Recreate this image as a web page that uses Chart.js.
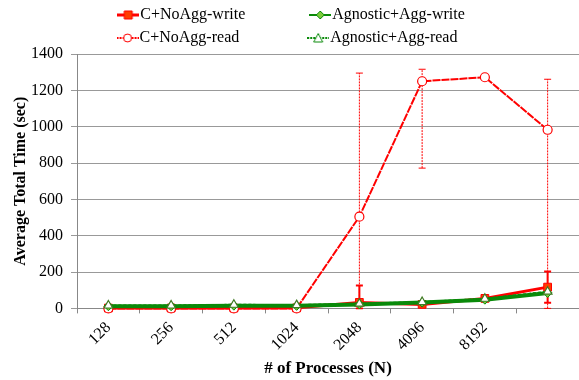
<!DOCTYPE html>
<html>
<head>
<meta charset="utf-8">
<script src="https://cdn.jsdelivr.net/npm/chart.js"></script>
<style>
  body { margin: 0; background: #fff; }
  #wrap { width: 579px; height: 380px; }
</style>
</head>
<body>
<div id="wrap"><canvas id="myLineChart" width="579" height="380"></canvas></div>
<script>
// DATA
var categories = ['128', '256', '512', '1024', '2048', '4096', '8192', ''];
var cWrite  = [2, 2, 2, 3, 33, 22, 55, 117];
var cRead   = [0, 0, 0, 0, 505, 1250, 1272, 983];
var agWrite = [12, 12, 15, 14, 22, 32, 48, 85];
var agRead  = [16, 16, 20, 18, 26, 35, 53, 92];

// error bars (low / high), null = none
var cReadLow   = [null, null, null, null, 0, 772, null, 0];
var cReadHigh  = [null, null, null, null, 1295, 1316, null, 1261];
var cWriteLow  = [null, null, null, null, 0, null, null, 31];
var cWriteHigh = [null, null, null, null, 126, null, null, 203];

var yTicks = { min: 0, max: 1400, step: 200 };

var RED = '#ff0000';
var GREEN = '#0a8a0a';
var FONT = '"Liberation Serif", "Times New Roman", serif';

Chart.defaults.font.family = FONT;
Chart.defaults.font.size = 16;
Chart.defaults.color = '#000';

// LEGEND ICONS - line with marker
function legendIcon(color, fill, style, dash, lw) {
  var c = document.createElement('canvas');
  c.width = 22; c.height = 12;
  var g = c.getContext('2d');
  g.strokeStyle = color; g.lineWidth = lw; g.setLineDash(dash);
  g.beginPath(); g.moveTo(0, 6); g.lineTo(22, 6); g.stroke();
  g.setLineDash([]); g.lineWidth = 1; g.fillStyle = fill;
  g.beginPath();
  if (style === 'rect') g.rect(7, 2, 8, 8);
  else if (style === 'circle') g.arc(11, 6, 4, 0, Math.PI * 2);
  else if (style === 'rectRot') { g.moveTo(11, 2); g.lineTo(15, 6); g.lineTo(11, 10); g.lineTo(7, 6); g.closePath(); }
  else if (style === 'triangle') { g.moveTo(11, 1.5); g.lineTo(15.5, 10); g.lineTo(6.5, 10); g.closePath(); }
  g.fill(); g.stroke();
  return c;
}

// pad legend text with spaces so the two columns line up
var measureCtx = document.createElement('canvas').getContext('2d');
measureCtx.font = '16px ' + FONT;
function padTo(text, px) {
  while (measureCtx.measureText(text).width < px) text += ' ';
  return text;
}

var datasets = [
  {
    label: 'C+NoAgg-write', data: cWrite, order: 3,
    borderColor: RED, backgroundColor: 'rgb(255,60,0)', borderWidth: 3,
    pointStyle: 'rect', pointRadius: 5.5, pointBorderColor: RED, pointBorderWidth: 1,
    errLow: cWriteLow, errHigh: cWriteHigh, errDash: [], errWidth: 2,
    icon: legendIcon(RED, 'rgb(255,60,0)', 'rect', [], 3)
  },
  {
    label: 'Agnostic+Agg-write', data: agWrite, order: 1,
    borderColor: GREEN, backgroundColor: '#7ccc3c', borderWidth: 4,
    pointStyle: 'rectRot', pointRadius: 4.5, pointBorderColor: GREEN, pointBorderWidth: 1,
    icon: legendIcon(GREEN, '#7ccc3c', 'rectRot', [], 2)
  },
  {
    label: 'C+NoAgg-read', data: cRead, order: 2,
    borderColor: RED, backgroundColor: '#fff', borderWidth: 2, borderDash: [8, 1],
    pointStyle: 'circle', pointRadius: 4.5, pointBorderColor: RED, pointBorderWidth: 1.2,
    errLow: cReadLow, errHigh: cReadHigh, errDash: [2, 1], errWidth: 1,
    icon: legendIcon(RED, '#fff', 'circle', [2, 1], 2)
  },
  {
    label: 'Agnostic+Agg-read', data: agRead, order: 0,
    borderColor: GREEN, backgroundColor: '#fff', borderWidth: 2, borderDash: [3, 2],
    pointStyle: 'triangle', pointRadius: 5, pointBorderColor: '#3f7a22', pointBorderWidth: 1.2,
    icon: legendIcon(GREEN, '#fff', 'triangle', [2, 1], 2)
  }
];
datasets.forEach(function (d) { d.clip = false; d.tension = 0; d.pointBackgroundColor = d.backgroundColor; });

// ERROR BARS
var errorBars = {
  id: 'errorBars',
  beforeDatasetsDraw: function (chart) {
    var ctx = chart.ctx, area = chart.chartArea, y = chart.scales.y;
    ctx.save();
    ctx.beginPath();
    ctx.rect(area.left, area.top - 2, area.right - area.left, area.bottom - area.top + 3);
    ctx.clip();
    chart.data.datasets.forEach(function (ds, di) {
      if (!ds.errLow) return;
      var meta = chart.getDatasetMeta(di);
      meta.data.forEach(function (pt, i) {
        if (ds.errLow[i] == null) return;
        var y1 = y.getPixelForValue(ds.errLow[i]), y2 = y.getPixelForValue(ds.errHigh[i]);
        ctx.strokeStyle = RED;
        ctx.lineWidth = ds.errWidth;
        ctx.setLineDash(ds.errDash);
        ctx.beginPath();
        ctx.moveTo(pt.x, y1); ctx.lineTo(pt.x, y2);
        ctx.stroke();
        ctx.setLineDash([]);
        ctx.beginPath();
        ctx.moveTo(pt.x - 3.5, y1); ctx.lineTo(pt.x + 3.5, y1);
        ctx.moveTo(pt.x - 3.5, y2); ctx.lineTo(pt.x + 3.5, y2);
        ctx.stroke();
      });
    });
    ctx.restore();
  }
};

// two-column legend: wrap rows at a narrower width, keep the box full width
var legendWrap = {
  id: 'legendWrap',
  beforeLayout: function (chart) {
    var lg = chart.legend;
    if (!lg || lg._wrapped) return;
    var fit = lg.fit;
    lg.fit = function () {
      var full = this.maxWidth;
      this.maxWidth = 400;
      fit.call(this);
      this.maxWidth = full;
      this.width = full;
      this.height = 54;
    };
    lg._wrapped = true;
  }
};

var legendOrder = [0, 1, 2, 3];
var colTarget = [166, 0, 166, 0];
var tickFont = { family: FONT, size: 16 };

var ctx = document.getElementById('myLineChart').getContext('2d');
var chart = new Chart(ctx, {
  type: 'line',
  data: { labels: categories, datasets: datasets },
  plugins: [errorBars, legendWrap],
  options: {
    responsive: false,
    animation: false,
    layout: { autoPadding: false, padding: { left: 10, right: 0, top: 0, bottom: 1 } },
    plugins: {
      tooltip: { enabled: false },
      legend: {
        position: 'top',
        labels: {
          usePointStyle: true,
          pointStyleWidth: 8,
          padding: 7,
          color: '#000',
          font: { family: FONT, size: 16 },
          generateLabels: function (chart) {
            var agW = measureCtx.measureText('Agnostic+Agg-write').width;
            return legendOrder.map(function (i) {
              var ds = chart.data.datasets[i];
              var target = colTarget[i] || agW;
              return {
                text: padTo(ds.label, target),
                pointStyle: ds.icon,
                datasetIndex: i,
                fillStyle: ds.backgroundColor,
                strokeStyle: ds.borderColor,
                lineWidth: 0,
                hidden: false,
                fontColor: '#000'
              };
            });
          }
        }
      }
    },
    scales: {
      x: {
        offset: true,
        grid: { display: true, drawOnChartArea: false, offset: true, tickLength: 5, color: '#888' },
        border: { color: '#888' },
        ticks: { minRotation: 45, maxRotation: 45, autoSkip: false, padding: 5, font: tickFont },
        title: { display: true, text: '# of Processes (N)', font: { family: FONT, size: 17, weight: 'bold' }, padding: { top: -1, bottom: 0 } },
        afterFit: function (scale) { scale.paddingLeft = 0; scale.paddingRight = 0; }
      },
      y: {
        min: yTicks.min, max: yTicks.max,
        grid: { color: '#999', tickLength: 6 },
        border: { color: '#888' },
        ticks: {
          stepSize: yTicks.step, padding: 8, font: tickFont,
          callback: function (v) { return String(v); }
        },
        title: { display: true, text: 'Average Total Time (sec)', font: { family: FONT, size: 16, weight: 'bold' }, padding: { top: 1, bottom: 1 } },
        afterFit: function (scale) { scale.width = 67; }
      }
    }
  }
});
</script>
</body>
</html>
